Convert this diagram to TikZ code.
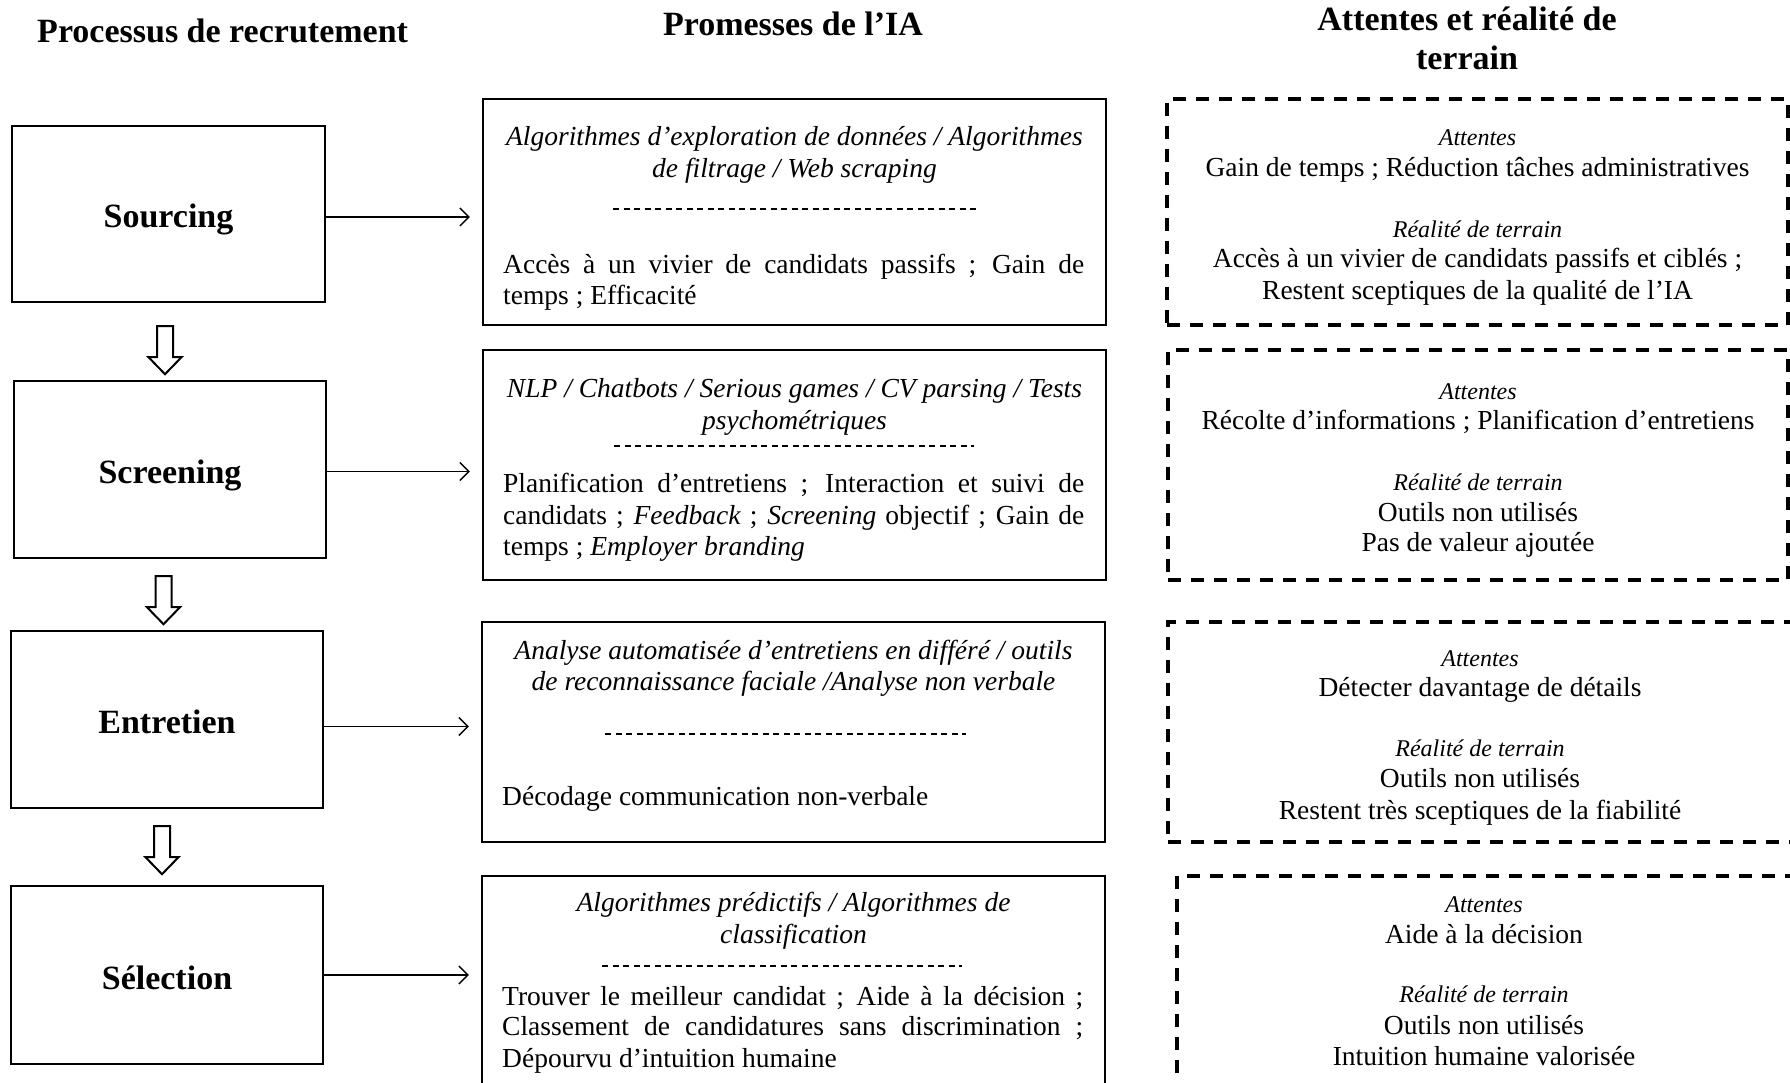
\documentclass[tikz,border=0pt]{standalone}
\usepackage{fontspec}
\setmainfont{Liberation Serif}
\usetikzlibrary{arrows.meta,calc}

\newcommand{\bodyfont}{\fontsize{27.5}{31}\selectfont}
\newcommand{\tagfont}{\fontsize{24}{28}\selectfont\itshape}
\newcommand{\headfont}{\fontsize{34}{40}\selectfont\bfseries}
\newcommand{\jline}[1]{\makebox[581pt][s]{#1}}

\tikzset{
  stagebox/.style={draw, line width=2.4pt, inner sep=0pt, font=\headfont,
      text height=28pt, text depth=0pt},
  promisebox/.style={draw, line width=2.4pt, inner sep=0pt},
  fieldbox/.style={draw, line width=3.3pt, dash pattern=on 13pt off 10pt, inner sep=0pt},
  flow/.style={line width=1.3pt, -{Straight Barb[length=9pt,width=18pt,line width=1.3pt]}},
  sepline/.style={line width=1.2pt, dash pattern=on 6pt off 4.5pt},
  txt/.style={inner sep=0pt, anchor=base, font=\bodyfont},
  itxt/.style={inner sep=0pt, anchor=base, font={\bodyfont\itshape}},
  jtxt/.style={inner sep=0pt, anchor=base west, font=\bodyfont},
  tagtxt/.style={inner sep=0pt, anchor=base, font=\tagfont},
  headtxt/.style={inner sep=0pt, anchor=base, font=\headfont},
  fatdown/.pic={\draw[line width=2pt, fill=white]
      (-8,0) -- (8,0) -- (8,31) -- (16.5,31) -- (0,48) -- (-16.5,31) -- (-8,31) -- cycle;}
}

\begin{document}
\begin{tikzpicture}[x=1pt,y=-1pt]
\clip (0,0) rectangle (1790,1083);
\fill[white] (0,0) rectangle (1790,1083);

% column headings
\node[headtxt] (h1) at (222.6,43) {Processus de recrutement};
\node[headtxt] (h2) at (793,36) {Promesses de l’IA};
\node[headtxt] (h3a) at (1467,31) {Attentes et réalité de};
\node[headtxt] (h3b) at (1467,70) {terrain};

% recruitment stages
\node[stagebox, minimum width=313pt, minimum height=176pt] (S1) at (168.5,214) {Sourcing};
\node[stagebox, minimum width=312pt, minimum height=177pt] (S2) at (170,469.5) {Screening};
\node[stagebox, minimum width=312pt, minimum height=177pt] (S3) at (167,719.5) {Entretien};
\node[stagebox, minimum width=312pt, minimum height=178pt] (S4) at (167,975) {Sélection};

% hollow arrows between stages
\pic at ([shift={(-3.5,23)}]S1.south) {fatdown};
\pic at ([shift={(-6.5,17)}]S2.south) {fatdown};
\pic at ([shift={(-5,17)}]S3.south) {fatdown};

% promise boxes
\node[promisebox, minimum width=623pt, minimum height=226pt] (M1) at (794.5,212) {};
\node[promisebox, minimum width=623pt, minimum height=230pt] (M2) at (794.5,465) {};
\node[promisebox, minimum width=623pt, minimum height=220pt] (M3) at (793.5,732) {};
\node[promisebox, minimum width=623pt, minimum height=224pt] (M4) at (793.5,988) {};

% field boxes (the lower two run past the right edge)
\node[fieldbox, minimum width=621pt, minimum height=226pt] (R1) at (1477.5,212) {};
\node[fieldbox, minimum width=620pt, minimum height=230pt] (R2) at (1478,465) {};
\node[fieldbox, minimum width=630pt, minimum height=220pt] (R3) at (1483,732) {};
\node[fieldbox, minimum width=624pt, minimum height=224pt] (R4) at (1489,988) {};

% stage -> promise arrows
\draw[flow] ([yshift=-3pt]S1.east) -- ([xshift=-12pt,yshift=-3pt]M1.west |- S1.east);
\draw[flow] ([yshift=-2pt]S2.east) -- ([xshift=-12pt,yshift=-2pt]M2.west |- S2.east);
\draw[flow] ([yshift=-7pt]S3.east) -- ([xshift=-12pt,yshift=-7pt]M3.west |- S3.east);
\draw[flow] (S4.east) -- ([xshift=-12pt]M4.west |- S4.east);

% promises: Sourcing
\node[itxt] (m1a) at (794.5,146) {Algorithmes d’exploration de données / Algorithmes};
\node[itxt] (m1b) at (794.5,178) {de filtrage / Web scraping};
\draw[sepline] (613,209) -- (979,209);
\node[jtxt] (m1c) at (503,273) {\jline{Accès à un vivier de candidats passifs ; Gain de}};
\node[jtxt] (m1d) at (503,304) {temps ; Efficacité};

% promises: Screening
\node[itxt] (m2a) at (794.5,397) {NLP / Chatbots / Serious games / CV parsing / Tests};
\node[itxt] (m2b) at (794.5,429) {psychométriques};
\draw[sepline] (614,446) -- (974,446);
\node[jtxt] (m2c) at (503,492) {\jline{Planification d’entretiens ; Interaction et suivi de}};
\node[jtxt] (m2d) at (503,524) {\jline{candidats ; \textit{Feedback} ; \textit{Screening} objectif ; Gain de}};
\node[jtxt] (m2e) at (503,555) {temps ; \textit{Employer branding}};

% promises: Entretien
\node[itxt] (m3a) at (793.5,659) {Analyse automatisée d’entretiens en différé / outils};
\node[itxt] (m3b) at (793.5,690) {de reconnaissance faciale /Analyse non verbale};
\draw[sepline] (605,734) -- (966,734);
\node[jtxt] (m3c) at (502,805) {Décodage communication non-verbale};

% promises: Sélection
\node[itxt] (m4a) at (793.5,911) {Algorithmes prédictifs / Algorithmes de};
\node[itxt] (m4b) at (793.5,943) {classification};
\draw[sepline] (602,966) -- (962,966);
\node[jtxt] (m4c) at (502,1005) {\jline{Trouver le meilleur candidat ; Aide à la décision ;}};
\node[jtxt] (m4d) at (502,1035) {\jline{Classement de candidatures sans discrimination ;}};
\node[jtxt] (m4e) at (502,1067) {Dépourvu d’intuition humaine};

% expectations and field reality
\node[tagtxt] (r1a) at (1477.5,146) {Attentes};
\node[txt] (r1b) at (1477.5,177) {Gain de temps ; Réduction tâches administratives};
\node[tagtxt] (r1c) at (1477.5,238) {Réalité de terrain};
\node[txt] (r1d) at (1477.5,268) {Accès à un vivier de candidats passifs et ciblés ;};
\node[txt] (r1e) at (1477.5,299) {Restent sceptiques de la qualité de l’IA};

\node[tagtxt] (r2a) at (1478,399) {Attentes};
\node[txt] (r2b) at (1478,429) {Récolte d’informations ; Planification d’entretiens};
\node[tagtxt] (r2c) at (1478,490) {Réalité de terrain};
\node[txt] (r2d) at (1478,521) {Outils non utilisés};
\node[txt] (r2e) at (1478,551) {Pas de valeur ajoutée};

\node[tagtxt] (r3a) at (1480,666) {Attentes};
\node[txt] (r3b) at (1480,696) {Détecter davantage de détails};
\node[tagtxt] (r3c) at (1480,756) {Réalité de terrain};
\node[txt] (r3d) at (1480,787) {Outils non utilisés};
\node[txt] (r3e) at (1480,819) {Restent très sceptiques de la fiabilité};

\node[tagtxt] (r4a) at (1484,912) {Attentes};
\node[txt] (r4b) at (1484,943) {Aide à la décision};
\node[tagtxt] (r4c) at (1484,1002) {Réalité de terrain};
\node[txt] (r4d) at (1484,1034) {Outils non utilisés};
\node[txt] (r4e) at (1484,1065) {Intuition humaine valorisée};
\end{tikzpicture}
\end{document}
